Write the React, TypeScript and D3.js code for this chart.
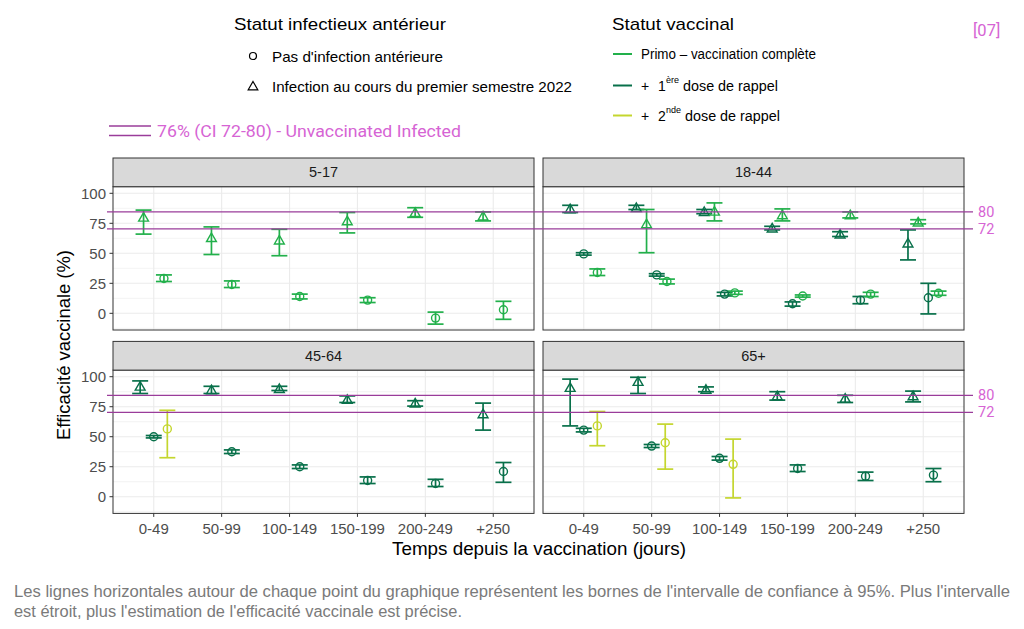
import React from "react";
import * as d3 from "d3";

const ageGroups = ["5-17", "18-44", "45-64", "65+"];
const timeBins = ["0-49", "50-99", "100-149", "150-199", "200-249", "+250"];
const yTicks = [0, 25, 50, 75, 100];
const yMinor = [-12.5, 12.5, 37.5, 62.5, 87.5];
const refLines = [
  { value: 84.5, label: "80" },
  { value: 70.3, label: "72" },
];
const vaccColors: Record<string, string> = {
  primo: "#22b04b",
  rappel1: "#08704a",
  rappel2: "#c4d62e",
};

// rows: [timeBin, infection ("prev" | "none"), vaccination, estimate, lower, upper]
type Row = [string, string, string, number, number, number];

const data517: Row[] = [
  ["0-49", "prev", "primo", 80, 66, 86],
  ["0-49", "none", "primo", 29, 26.5, 32],
  ["50-99", "prev", "primo", 63, 49, 72],
  ["50-99", "none", "primo", 24, 21.5, 27],
  ["100-149", "prev", "primo", 61, 48, 70],
  ["100-149", "none", "primo", 14, 12, 16],
  ["150-199", "prev", "primo", 77, 67, 84],
  ["150-199", "none", "primo", 11, 9, 13],
  ["200-249", "prev", "primo", 84, 80, 88],
  ["200-249", "none", "primo", -4, -9, 1],
  ["+250", "prev", "primo", 81, 77, 84.5],
  ["+250", "none", "primo", 3, -5, 10],
];

const data1844: Row[] = [
  ["0-49", "prev", "rappel1", 87, 84, 90],
  ["0-49", "none", "rappel1", 49.5, 48.5, 50.5],
  ["0-49", "none", "primo", 34, 31.5, 37],
  ["50-99", "prev", "rappel1", 88, 86.5, 90],
  ["50-99", "prev", "primo", 74.5, 50.5, 86.5],
  ["50-99", "none", "rappel1", 32, 31, 33],
  ["50-99", "none", "primo", 26.5, 24.5, 28.5],
  ["100-149", "prev", "rappel1", 84.7, 83, 86.5],
  ["100-149", "prev", "primo", 85, 77, 92],
  ["100-149", "none", "rappel1", 16, 14.5, 17.5],
  ["100-149", "none", "primo", 17, 15.8, 18.5],
  ["150-199", "prev", "rappel1", 71, 69.5, 72.5],
  ["150-199", "prev", "primo", 82, 77, 87],
  ["150-199", "none", "rappel1", 8, 6, 9.5],
  ["150-199", "none", "primo", 14.4, 13.5, 15.3],
  ["200-249", "prev", "rappel1", 66, 64, 68],
  ["200-249", "prev", "primo", 82, 79.5, 84.5],
  ["200-249", "none", "rappel1", 11, 8, 14],
  ["200-249", "none", "primo", 16, 14, 17.5],
  ["+250", "prev", "rappel1", 58.5, 44.5, 69.5],
  ["+250", "prev", "primo", 76, 74.5, 78],
  ["+250", "none", "rappel1", 13, -0.5, 25],
  ["+250", "none", "primo", 16.7, 15, 18.5],
];

const data4564: Row[] = [
  ["0-49", "prev", "rappel1", 92, 86, 96.5],
  ["0-49", "none", "rappel1", 50, 49, 51],
  ["0-49", "none", "rappel2", 56.5, 32.5, 72],
  ["50-99", "prev", "rappel1", 89, 86, 92],
  ["50-99", "none", "rappel1", 37.5, 36, 39],
  ["100-149", "prev", "rappel1", 90, 88.5, 92],
  ["100-149", "none", "rappel1", 25, 23.5, 26.5],
  ["150-199", "prev", "rappel1", 81, 78.5, 84],
  ["150-199", "none", "rappel1", 13.5, 11, 16.5],
  ["200-249", "prev", "rappel1", 78, 75.5, 80],
  ["200-249", "none", "rappel1", 11, 8.5, 14.5],
  ["+250", "prev", "rappel1", 69, 55.5, 78],
  ["+250", "none", "rappel1", 21, 12, 28.5],
];

const data65: Row[] = [
  ["0-49", "prev", "rappel1", 91, 59, 98],
  ["0-49", "none", "rappel1", 55.5, 54, 57],
  ["0-49", "none", "rappel2", 59, 42.5, 71],
  ["50-99", "prev", "rappel1", 96, 86, 99.5],
  ["50-99", "none", "rappel1", 42.2, 41, 43.5],
  ["50-99", "none", "rappel2", 45, 23, 60.5],
  ["100-149", "prev", "rappel1", 89.4, 87.5, 91.5],
  ["100-149", "none", "rappel1", 32, 30.5, 33.5],
  ["100-149", "none", "rappel2", 27, -1, 48],
  ["150-199", "prev", "rappel1", 84, 80.5, 87.5],
  ["150-199", "none", "rappel1", 23.5, 21, 26.5],
  ["200-249", "prev", "rappel1", 82, 78.5, 84.5],
  ["200-249", "none", "rappel1", 17, 13.5, 20.5],
  ["+250", "prev", "rappel1", 84, 79, 88],
  ["+250", "none", "rappel1", 18, 12.5, 23.5],
];

const panelData: Row[][] = [data517, data1844, data4564, data65];

const FONT = "'Liberation Sans', Arial, Helvetica, sans-serif";
const colX = [113, 543];
const panelW = 421;
const stripTop = [158, 341.4];
const stripH = 28.7;
const panelH = 143.3;
const yDomain: [number, number] = [-13.9, 105.5];
const gridColor = "#ebebeb";
const borderColor = "#333333";
const refColor = "#9a3c9a";
const pink = "#d664d4";

function Panel({ idx }: { idx: number }) {
  const col = idx % 2;
  const row = Math.floor(idx / 2);
  const x0 = colX[col];
  const sTop = stripTop[row];
  const pTop = sTop + stripH;
  const pBot = pTop + panelH;
  const x = d3.scalePoint<string>().domain(timeBins).range([x0, x0 + panelW]).padding(0.6);
  const y = d3.scaleLinear().domain(yDomain).range([pBot, pTop]);
  const step = x.step();
  const dodgeW = step * 0.6;
  const rows = panelData[idx];
  const byBin = d3.group(rows, (r) => r[0]);
  const tri = d3.symbol(d3.symbolTriangle, 42)() as string;
  const capHalf = 8;

  const marks: JSX.Element[] = [];
  const points: JSX.Element[] = [];
  timeBins.forEach((bin) => {
    const list = byBin.get(bin) || [];
    const n = list.length;
    list.forEach((r, i) => {
      const cx = (x(bin) as number) + (i - (n - 1) / 2) * (dodgeW / n);
      const c = vaccColors[r[2]];
      const k = `${bin}-${i}`;
      marks.push(
        <g key={k} stroke={c} strokeWidth={1.7} fill="none">
          <line x1={cx} x2={cx} y1={y(r[4])} y2={y(r[5])} />
          <line x1={cx - capHalf} x2={cx + capHalf} y1={y(r[4])} y2={y(r[4])} />
          <line x1={cx - capHalf} x2={cx + capHalf} y1={y(r[5])} y2={y(r[5])} />
        </g>
      );
      points.push(
        r[1] === "prev" ? (
          <path key={k} d={tri} transform={`translate(${cx},${y(r[3]) + 1})`} fill="none" stroke={c} strokeWidth={1.4} />
        ) : (
          <circle key={k} cx={cx} cy={y(r[3])} r={4} fill="none" stroke={c} strokeWidth={1.4} />
        )
      );
    });
  });

  return (
    <g>
      <rect x={x0} y={pTop} width={panelW} height={panelH} fill="white" />
      {yMinor.map((v) => (
        <line key={"mi" + v} x1={x0} x2={x0 + panelW} y1={y(v)} y2={y(v)} stroke={gridColor} strokeWidth={0.6} />
      ))}
      {yTicks.map((v) => (
        <line key={"ma" + v} x1={x0} x2={x0 + panelW} y1={y(v)} y2={y(v)} stroke={gridColor} strokeWidth={1.1} />
      ))}
      {timeBins.map((b) => (
        <line key={"v" + b} x1={x(b)} x2={x(b)} y1={pTop} y2={pBot} stroke={gridColor} strokeWidth={1.1} />
      ))}
      {marks}
      {points}
      <rect x={x0} y={pTop} width={panelW} height={panelH} fill="none" stroke={borderColor} strokeWidth={1} />
      <rect x={x0} y={sTop} width={panelW} height={stripH} fill="#d9d9d9" stroke={borderColor} strokeWidth={1} />
      <text x={x0 + panelW / 2} y={sTop + stripH / 2 + 5} textAnchor="middle" fontSize={14.5} fill="#1a1a1a" fontFamily={FONT}>
        {ageGroups[idx]}
      </text>
      {col === 0 &&
        yTicks.map((v) => (
          <g key={"yt" + v}>
            <line x1={x0 - 3.5} x2={x0} y1={y(v)} y2={y(v)} stroke="#333" strokeWidth={1} />
            <text x={x0 - 7} y={y(v) + 5.3} textAnchor="end" fontSize={15} fill="#4d4d4d" fontFamily={FONT}>
              {v}
            </text>
          </g>
        ))}
      {row === 1 &&
        timeBins.map((b) => (
          <g key={"xt" + b}>
            <line x1={x(b)} x2={x(b)} y1={pBot} y2={pBot + 3.5} stroke="#333" strokeWidth={1} />
            <text x={x(b)} y={pBot + 21} textAnchor="middle" fontSize={15} fill="#4d4d4d" fontFamily={FONT}>
              {b}
            </text>
          </g>
        ))}
    </g>
  );
}

function RefLines({ row }: { row: number }) {
  const pTop = stripTop[row] + stripH;
  const y = d3.scaleLinear().domain(yDomain).range([pTop + panelH, pTop]);
  return (
    <g>
      {refLines.map((r) => (
        <g key={r.label}>
          <line x1={107} x2={973} y1={y(r.value)} y2={y(r.value)} stroke={refColor} strokeWidth={1.2} />
          <text x={978} y={y(r.value) + 5} fontSize={14.5} fill={pink} fontFamily="Roboto, sans-serif">
            {r.label}
          </text>
        </g>
      ))}
    </g>
  );
}

export default function App() {
  const legendTri = d3.symbol(d3.symbolTriangle, 40)() as string;
  return (
    <svg width={1024} height={629} style={{ position: "absolute", left: 0, top: 0, background: "white" }} fontFamily={FONT}>
      <rect width={1024} height={629} fill="white" />
      {/* legends */}
      <text x={234} y={30} fontSize={17} fill="#000" textLength={212} lengthAdjust="spacingAndGlyphs">Statut infectieux antérieur</text>
      <circle cx={253} cy={56} r={3.5} fill="none" stroke="#000" strokeWidth={1.2} />
      <text x={272} y={61.5} fontSize={15} fill="#000" textLength={171} lengthAdjust="spacingAndGlyphs">Pas d'infection antérieure</text>
      <path d={legendTri} transform="translate(253,87)" fill="none" stroke="#000" strokeWidth={1.2} />
      <text x={272} y={91.5} fontSize={15} fill="#000" textLength={300} lengthAdjust="spacingAndGlyphs">Infection au cours du premier semestre 2022</text>

      <text x={612} y={30} fontSize={17} fill="#000" textLength={122} lengthAdjust="spacingAndGlyphs">Statut vaccinal</text>
      <line x1={613} x2={632} y1={54} y2={54} stroke={vaccColors.primo} strokeWidth={2} />
      <text x={641} y={59} fontSize={14} fill="#000" textLength={175} lengthAdjust="spacingAndGlyphs">Primo – vaccination complète</text>
      <line x1={613} x2={632} y1={85.5} y2={85.5} stroke={vaccColors.rappel1} strokeWidth={2} />
      <text x={641} y={91} fontSize={14} fill="#000">+</text>
      <text x={658} y={91} fontSize={14} fill="#000">1</text>
      <text x={666} y={83} fontSize={9} fill="#000">ère</text>
      <text x={683} y={91} fontSize={14} fill="#000" textLength={95} lengthAdjust="spacingAndGlyphs">dose de rappel</text>
      <line x1={613} x2={632} y1={115.5} y2={115.5} stroke={vaccColors.rappel2} strokeWidth={2} />
      <text x={641} y={121} fontSize={14} fill="#000">+</text>
      <text x={658} y={121} fontSize={14} fill="#000">2</text>
      <text x={666} y={113} fontSize={9} fill="#000">nde</text>
      <text x={685} y={121} fontSize={14} fill="#000" textLength={95} lengthAdjust="spacingAndGlyphs">dose de rappel</text>

      <text x={973} y={36} fontSize={16.5} fill={pink} fontFamily="Roboto, sans-serif">[07]</text>

      <line x1={109} x2={151} y1={126} y2={126} stroke={refColor} strokeWidth={1.3} />
      <line x1={109} x2={151} y1={135.5} y2={135.5} stroke={refColor} strokeWidth={1.3} />
      <text x={157} y={137} fontSize={16.5} fill={pink} fontFamily="Roboto, sans-serif" textLength={304} lengthAdjust="spacingAndGlyphs">76% (CI 72-80) - Unvaccinated Infected</text>

      {[0, 1, 2, 3].map((i) => (
        <Panel key={i} idx={i} />
      ))}
      <RefLines row={0} />
      <RefLines row={1} />

      <text transform="translate(70,345) rotate(-90)" textAnchor="middle" fontSize={18} fill="#000" textLength={190} lengthAdjust="spacingAndGlyphs">
        Efficacité vaccinale (%)
      </text>
      <text x={539} y={555} textAnchor="middle" fontSize={18} fill="#000" textLength={294} lengthAdjust="spacingAndGlyphs">
        Temps depuis la vaccination (jours)
      </text>

      <text x={14} y={597} fontSize={16} fill="#7a7a7a" textLength={996} lengthAdjust="spacingAndGlyphs">
        Les lignes horizontales autour de chaque point du graphique représentent les bornes de l'intervalle de confiance à 95%. Plus l'intervalle
      </text>
      <text x={14} y={617} fontSize={16} fill="#7a7a7a" textLength={448} lengthAdjust="spacingAndGlyphs">
        est étroit, plus l'estimation de l'efficacité vaccinale est précise.
      </text>
    </svg>
  );
}
